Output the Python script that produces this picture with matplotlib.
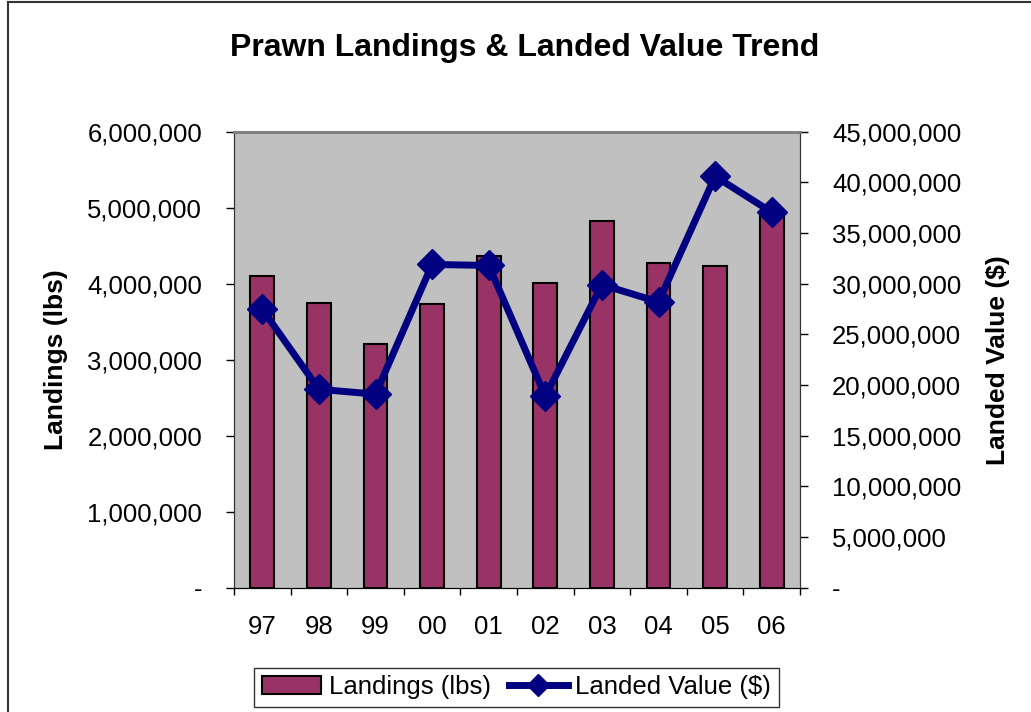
import matplotlib.pyplot as plt
import numpy as np
from matplotlib.ticker import FuncFormatter, FixedLocator
from matplotlib.lines import Line2D
from matplotlib.patches import Patch

plt.rcParams['font.family'] = ['Liberation Sans', 'DejaVu Sans']

years = ['97', '98', '99', '00', '01', '02', '03', '04', '05', '06']
landings = [4105000, 3750000, 3210000, 3730000, 4360000, 4010000, 4830000, 4270000, 4230000, 4950000]
value = [27470000, 19580000, 19100000, 31900000, 31800000, 18900000, 29900000, 28200000, 40600000, 37050000]

fig = plt.figure(figsize=(10.31, 7.12), dpi=100)
ax = fig.add_axes([234/1031, 1-587.7/712, 566/1031, 456/712])
ax.set_facecolor('#C0C0C0')

x = np.arange(len(years))
ax.bar(x, landings, width=0.42, color='#993366', edgecolor='black', linewidth=1.5, zorder=2)
ax.set_xlim(-0.5, len(years)-0.5)
ax.set_ylim(0, 6000000)
ax.set_yticks(np.arange(0, 6000001, 1000000))

def fmt(v, pos):
    return '-' if v == 0 else '{:,.0f}'.format(v)

ax.yaxis.set_major_formatter(FuncFormatter(fmt))
ax.tick_params(axis='y', direction='out', length=6, width=1, pad=17, labelsize=18.5)

# category boundaries as ticks, labels at centers
ax.xaxis.set_major_locator(FixedLocator(np.arange(-0.5, len(years), 1.0)))
ax.xaxis.set_major_formatter(FuncFormatter(lambda v, p: ''))
ax.xaxis.set_minor_locator(FixedLocator(x))
ax.set_xticklabels(years, minor=True)
ax.tick_params(axis='x', which='major', direction='out', length=5, width=1)
ax.tick_params(axis='x', which='minor', length=0, pad=20, labelsize=18.5)

ax2 = ax.twinx()
ax2.plot(x, value, color='#000080', linewidth=5, marker='D', markersize=15,
         markeredgewidth=1, zorder=3)
ax2.set_ylim(0, 45000000)
ax2.set_yticks(np.arange(0, 45000001, 5000000))
ax2.yaxis.set_major_formatter(FuncFormatter(fmt))
ax2.tick_params(axis='y', direction='out', length=6, width=1, pad=17, labelsize=18.5)

for a in (ax, ax2):
    a.spines['top'].set_color('#808080')
    a.spines['top'].set_linewidth(2)
    a.spines['left'].set_color('#333333')
    a.spines['right'].set_color('#333333')
    a.spines['bottom'].set_color('black')

ax.set_ylabel('Landings (lbs)', fontsize=19, fontweight='bold')
ax.yaxis.set_label_coords(-0.293, 0.5)
ax2.set_ylabel('Landed Value ($)', fontsize=19, fontweight='bold')
ax2.yaxis.set_label_coords(1.329, 0.5)

fig.text(0.509, 1-48/712, 'Prawn Landings & Landed Value Trend', fontsize=23,
         fontweight='bold', ha='center', va='center')

handles = [Patch(facecolor='#993366', edgecolor='black', linewidth=1.5),
           Line2D([], [], color='#000080', linewidth=5, marker='D', markersize=11)]
leg = fig.legend(handles, ['Landings (lbs)', 'Landed Value ($)'], loc='lower center',
                 bbox_to_anchor=(516.5/1031, 5/712), ncol=2, fontsize=18.5, frameon=True,
                 fancybox=False, edgecolor='black', handlelength=2.3, handletextpad=0.3,
                 columnspacing=0.7, borderpad=0.3, borderaxespad=0)
leg.get_frame().set_linewidth(1)

# chart area border (left and top edges visible)
fig.add_artist(Line2D([8/1031, 8/1031], [0, 1-2/712], color='#333333', linewidth=1.5))
fig.add_artist(Line2D([8/1031, 1], [1-2/712, 1-2/712], color='#333333', linewidth=1.5))

fig.savefig('out.png', dpi=100)
